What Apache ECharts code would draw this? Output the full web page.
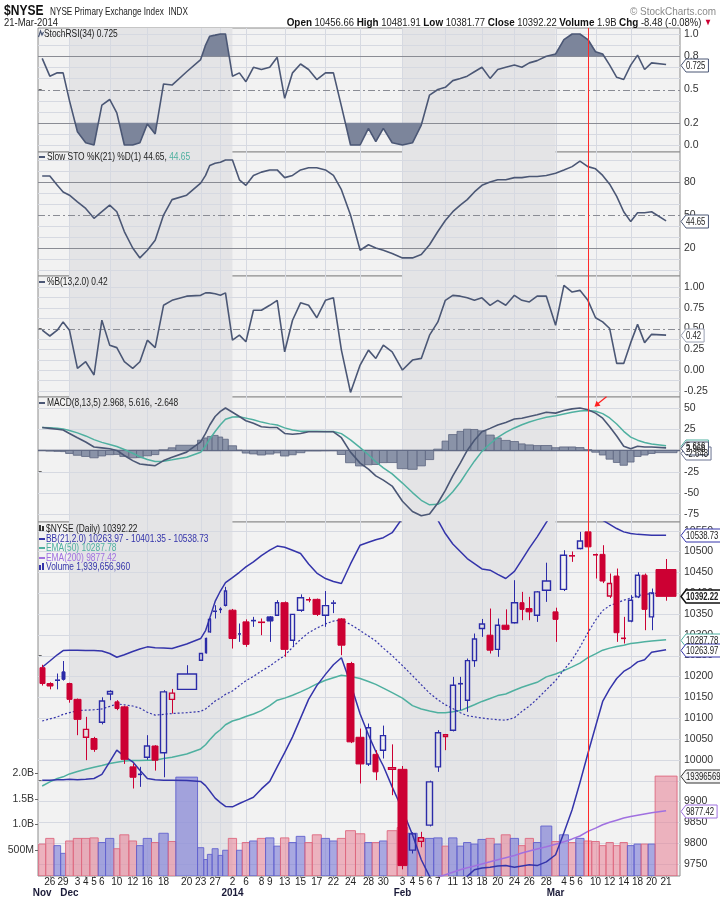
<!DOCTYPE html>
<html><head><meta charset="utf-8">
<script src="https://cdn.jsdelivr.net/npm/echarts@6.0.0/dist/echarts.min.js"></script>
<style>html,body{margin:0;padding:0;background:#fff;}#c{width:720px;height:901px;}</style>
</head><body><div id="c"></div>
<script>
// ---------------- DATA ----------------
const dates = ['Nov 25','Nov 26','Nov 27','Nov 29','Dec 2','Dec 3','Dec 4','Dec 5','Dec 6','Dec 9','Dec 10','Dec 11','Dec 12','Dec 13','Dec 16','Dec 17','Dec 18','Dec 19','Dec 20','Dec 23','Dec 24','Dec 26','Dec 27','Dec 30','Dec 31','Jan 2','Jan 3','Jan 6','Jan 7','Jan 8','Jan 9','Jan 10','Jan 13','Jan 14','Jan 15','Jan 16','Jan 17','Jan 21','Jan 22','Jan 23','Jan 24','Jan 27','Jan 28','Jan 29','Jan 30','Jan 31','Feb 3','Feb 4','Feb 5','Feb 6','Feb 7','Feb 10','Feb 11','Feb 12','Feb 13','Feb 14','Feb 18','Feb 19','Feb 20','Feb 21','Feb 24','Feb 25','Feb 26','Feb 27','Feb 28','Mar 3','Mar 4','Mar 5','Mar 6','Mar 7','Mar 10','Mar 11','Mar 12','Mar 13','Mar 14','Mar 17','Mar 18','Mar 19','Mar 20','Mar 21'];
const prevClose = 10230;
const open = [10221,10183,10190,10211,10183,10145,10054,10051,10090,10158,
 10139,10127,9983,9964,10006,10033,10017,10145,10169,10239,
 10257,10307,10355,10360,10371,10359,10301,10331,10333,10331,
 10343,10347,10377,10287,10359,10385,10385,10347,10375,10338,
 10231,10054,9990,10013,10023,9977,9977,9783,9804,9843,
 9983,10056,10071,10182,10143,10238,10315,10299,10265,10323,
 10329,10377,10363,10347,10407,10355,10409,10490,10507,10547,
 10493,10493,10393,10441,10292,10333,10391,10443,10343,10456.66];
const high = [10228,10186,10207,10237,10185,10147,10103,10055,10150,10167,
 10143,10130,9991,9983,10059,10035,10167,10170,10227,10255,
 10293,10340,10371,10366,10415,10362,10327,10337,10343,10339,
 10345,10383,10380,10349,10397,10390,10387,10405,10383,10340,
 10235,10075,10087,10023,10082,10037,9985,9826,9827,9950,
 10071,10062,10199,10199,10243,10303,10338,10363,10339,10361,
 10431,10403,10391,10405,10473,10365,10503,10500,10547,10555,
 10495,10515,10447,10459,10343,10395,10450,10447,10411,10481.91];
const low = [10178,10169,10169,10190,10137,10059,9999,10019,10085,10143,
 10119,9990,9931,9935,10000,9974,9958,10111,10169,10237,
 10255,10305,10339,10352,10368,10267,10283,10271,10319,10299,
 10283,10345,10247,10271,10355,10378,10345,10319,10352,10251,
 10040,9943,9985,9951,10003,9915,9737,9775,9790,9840,
 9971,10023,10068,10119,10115,10223,10295,10255,10247,10311,
 10327,10335,10335,10331,10379,10283,10405,10475,10505,10508,
 10435,10424,10388,10283,10279,10330,10388,10311,10311,10381.77];
const close = [10183,10177,10192,10193,10145,10097,10073,10025,10141,10164,
 10123,10001,9958,9966,10033,9999,10163,10160,10206,10255,
 10291,10337,10358,10362,10405,10291,10303,10277,10335,10329,
 10333,10377,10265,10349,10389,10383,10349,10370,10377,10275,
 10043,9990,10077,9971,10058,9981,9746,9822,9813,9947,
 10065,10060,10179,10183,10238,10290,10326,10263,10323,10313,
 10377,10361,10355,10403,10429,10337,10491,10489,10525,10511,
 10491,10429,10423,10305,10291,10383,10443,10361,10400.7,10392.22];
// volume in billions of shares
const volume = [0.62,0.73,0.59,0.44,0.68,0.73,0.73,0.74,0.65,0.73,
 0.53,0.80,0.68,0.59,0.73,0.65,0.83,0.67,1.92,0.55,
 0.32,0.42,0.53,0.40,0.50,0.73,0.50,0.65,0.68,0.73,
 0.74,0.58,0.74,0.65,0.77,0.65,0.80,0.73,0.68,0.73,
 0.88,0.82,0.65,0.65,0.68,0.88,0.94,0.83,0.73,0.73,
 0.74,0.58,0.74,0.58,0.65,0.62,0.71,0.73,0.62,0.80,
 0.73,0.59,0.73,0.65,0.97,0.67,0.80,0.65,0.73,0.68,
 0.67,0.59,0.65,0.59,0.65,0.59,0.62,0.62,0.62,1.9397];
const stochRsi = [0.78,0.62,0.65,0.65,0.40,0.12,0.02,0.0,0.36,0.41,
 0.29,0.0,0.0,0.02,0.19,0.10,0.55,0.54,0.66,0.77,
 0.90,0.98,0.99,1.0,1.0,0.62,0.65,0.57,0.70,0.68,
 0.70,0.79,0.42,0.65,0.73,0.68,0.59,0.65,0.65,0.35,
 0.0,0.0,0.15,0.03,0.15,0.02,0.0,0.02,0.18,0.45,
 0.50,0.52,0.58,0.60,0.62,0.66,0.70,0.60,0.68,0.70,
 0.72,0.70,0.74,0.76,0.80,0.82,0.95,1.0,1.0,0.95,
 0.84,0.82,0.72,0.61,0.59,0.72,0.81,0.68,0.74,0.725];
const slowSto = [85.5,85.5,77,71,68,62,56,47,53,59,
 53,35,20,11,18,27,50,64,68,79,
 86,95,97,98,100,100,82,77,86,89,
 91,91,84,86,91,93,93,91,86,73,
 50,18,23,20,18,15,11,11,14,23,
 35,45,53,59,64,71,77,80,82,82,
 84,84,85,85,86,88,91,94,99,94,
 92,86,78,67,53,44,52,52,53,44.65];
const pctB = [0.48,0.41,0.48,0.58,0.48,0.02,0.10,-0.06,0.60,0.30,
 0.27,0.10,0.02,0.10,0.36,0.27,0.78,0.84,0.89,0.90,
 0.93,0.93,0.92,0.90,0.93,0.36,0.42,0.34,0.72,0.72,
 0.78,0.84,0.22,0.60,0.81,0.78,0.63,0.84,0.87,0.24,
 -0.27,0.06,0.24,0.14,0.30,0.22,0.0,0.12,0.14,0.42,
 0.58,0.84,0.90,0.89,0.87,0.84,0.87,0.78,0.84,0.78,
 0.90,0.84,0.82,0.89,0.89,0.54,1.02,0.94,0.96,0.84,
 0.63,0.58,0.50,0.08,0.08,0.33,0.55,0.33,0.43,0.42];
const macdLine = [27,26,25,24,20,15,10,4,3,2,
 0,-6,-12,-16,-17,-18,-12,-8,-2,10,
 20,30,40,46,50,45,40,35,32,28,
 27,27,20,19,20,22,22,22,22,15,
 -2,-15,-22,-30,-35,-42,-60,-72,-77,-75,
 -62,-47,-30,-15,0,12,22,26,30,33,
 37,38,40,42,45,44,47,49,50,48,
 44,38,28,17,5,2,5,4,4,2.968];
const macdSignal = [27,26.7,26.1,25.4,23.6,20.7,17.1,12.7,9.5,7.0,
 4.7,1.1,-3.3,-7.5,-10.7,-13.1,-12.7,-11.1,-8.1,-2.1,
 5.3,13.5,22.3,30.2,36.8,39.5,39.7,38.1,36.1,33.4,
 31.3,29.9,26.6,24.1,22.7,22.5,22.5,22.3,22.2,19.8,
 12.5,3.3,-5.1,-13.4,-20.6,-27.7,-38.5,-49.7,-58.8,-64.2,
 -63.5,-58,-48.7,-37.5,-25,-12.7,-1.1,7.9,15.3,21.2,
 26.5,30.3,33.5,36.3,39.2,40.8,42.9,44.9,46.6,47.1,
 46.1,43.4,38.3,31.2,22.5,15.7,12.1,9.4,7.6,5.616];
const macdHist = [0,-0.7,-1.1,-1.4,-3.6,-5.7,-7.1,-8.7,-6.5,-5,
 -4.7,-7.1,-8.7,-8.5,-6.3,-4.9,0.7,3.1,6.1,12.1,
 14.7,16.5,17.7,15.8,13.2,5.5,0.3,-3.1,-4.1,-5.4,
 -4.3,-2.9,-6.6,-5.1,-2.7,-0.5,-0.5,-0.3,-0.2,-4.8,
 -14.5,-18.3,-16.9,-16.6,-14.4,-14.3,-21.5,-22.3,-18.2,-10.8,
 1.5,11,18.7,22.5,25,24.7,23.1,18.1,14.7,11.8,
 10.5,7.7,6.5,5.7,5.8,3.2,4.1,4.1,3.4,0.9,
 -2.1,-5.4,-10.3,-14.2,-17.5,-13.7,-7.1,-5.4,-3.6,-2.648];
const bbUpper = [10222,10237,10252,10262,10263,10263,10262,10262,10261,10255,
 10246,10252,10260,10266,10271,10269,10268,10267,10278,10291,
 10310,10340,10380,10405,10425,10437,10450,10463,10475,10490,
 10503,10513,10510,10503,10495,10470,10448,10435,10428,10423,
 10470,10515,10522,10528,10533,10545,10580,10600,10610,10600,
 10575,10543,10518,10500,10483,10471,10458,10455,10445,10435,
 10452,10480,10508,10535,10570,10600,10630,10640,10640,10630,
 10610,10575,10565,10555,10547,10543,10541,10540,10539,10538.73];
const bbMiddle = [10093,10098,10103,10109,10113,10118,10119,10120,10122,10128,
 10134,10132,10129,10124,10114,10107,10109,10111,10113,10116,
 10122,10130,10141,10148,10157,10165,10178,10190,10200,10213,
 10225,10238,10250,10270,10289,10305,10316,10326,10333,10335,
 10325,10310,10297,10285,10268,10250,10226,10202,10180,10160,
 10144,10132,10123,10113,10106,10103,10100,10098,10096,10095,
 10101,10116,10129,10146,10168,10190,10216,10240,10270,10305,
 10335,10358,10370,10376,10383,10388,10394,10397,10399,10401.35];
const bbLower = [9951,9951,9952,9952,9953,9952,9953,9955,9965,9995,
 10023,10008,9995,9975,9955,9952,9951,9951,9950,9948,
 9938,9925,9908,9897,9888,9887,9895,9902,9910,9930,
 9948,9983,10017,10055,10100,10145,10178,10205,10228,10245,
 10183,10110,10060,10020,9985,9935,9880,9820,9760,9720,
 9700,9690,9695,9705,9720,9736,9740,9742,9745,9746,
 9742,9745,9748,9746,9755,9772,9825,9880,9945,10015,
 10080,10140,10170,10195,10212,10222,10235,10240,10258,10263.97];
const ema50 = [9937,9947,9955,9959,9966,9972,9977,9982,9986,9991,
 9994,9997,9998,9998,9999,9999,10003,10006,10014,10026,
 10036,10048,10062,10072,10084,10093,10098,10104,10110,10118,
 10130,10143,10148,10155,10163,10172,10182,10191,10197,10203,
 10200,10195,10188,10181,10172,10161,10148,10130,10122,10117,
 10113,10113,10115,10118,10125,10132,10140,10147,10154,10158,
 10167,10174,10180,10186,10199,10206,10214,10223,10232,10245,
 10254,10263,10268,10272,10275,10279,10281,10283,10285,10287.78];
const ema200 = [9470,9476,9482,9487,9493,9499,9505,9510,9516,9522,
 9527,9533,9538,9544,9549,9555,9560,9566,9571,9577,
 9582,9588,9593,9599,9604,9610,9615,9620,9626,9631,
 9636,9641,9646,9651,9656,9661,9666,9671,9675,9679,
 9683,9686,9689,9692,9695,9698,9700,9703,9706,9712,
 9718,9724,9730,9736,9741,9745,9750,9755,9760,9765,
 9770,9776,9781,9786,9791,9797,9803,9810,9817,9828,
 9836,9844,9850,9855,9860,9864,9867,9870,9873,9877.42];
const dayTicks = ['Nov 26','Nov 29','Dec 3','Dec 4','Dec 5','Dec 6','Dec 10','Dec 12','Dec 16','Dec 18','Dec 20','Dec 23','Dec 27','Jan 2','Jan 6','Jan 8','Jan 9','Jan 13','Jan 15','Jan 17','Jan 22','Jan 24','Jan 28','Jan 30','Feb 3','Feb 4','Feb 5','Feb 6','Feb 7','Feb 11','Feb 13','Feb 18','Feb 20','Feb 24','Feb 26','Feb 28','Mar 4','Mar 5','Mar 6','Mar 10','Mar 12','Mar 14','Mar 18','Mar 20','Mar 21'];
const monthTicks = ['Nov 25','Dec 2','Jan 2','Feb 3','Mar 3'];
const monthNames = ['Nov','Dec','2014','Feb','Mar'];
const weekStarts = ['Dec 2','Dec 9','Dec 16','Dec 23','Dec 30','Jan 6','Jan 13','Jan 21','Jan 27','Feb 3','Feb 10','Feb 18','Feb 24','Mar 3','Mar 10','Mar 17'];
const shadeRanges = [['Dec 2','Jan 2'],['Feb 3','Mar 3']];
const markerDay = 'Mar 7';
const priceTicks = [9750,9800,9850,9900,9950,10000,10050,10100,10150,10200,10250,10300,10350,10400,10450,10500,10550];

// ---------------- LAYOUT / HELPERS ----------------
const FONT = "'Liberation Sans',Arial,sans-serif";
const N = dates.length;
const xStart = [], xCenter = [];
let acc = 0;
for (let i = 0; i < N; i++) { xStart.push(acc); xCenter.push(acc + volume[i] / 2); acc += volume[i]; }
const xMin = -0.06, xMax = acc + 0.26;
const di = d => dates.indexOf(d);
const RED = '#cc0033', BLUE = '#2b2ba8', SLATE = '#4b5775', TEAL = '#4fb0a0', PURPLE = '#a070e0', BBC = '#3434aa';
const isUp = i => close[i] >= (i > 0 ? close[i - 1] : prevClose);

const gridDefs = [[28,124],[152,124],[276,121],[397,125],[522,354]];
const grid = gridDefs.map(([t,h]) => ({left:38, width:642, top:t, height:h, show:true, backgroundColor:'#f2f2f2', borderColor:'#8c8c8c', borderWidth:1}));

const hidden = {axisLine:{show:false}, axisTick:{show:false}, axisLabel:{show:false}, splitLine:{show:false}};
const xAxis = [0,1,2,3].map(k => Object.assign({gridIndex:k, type:'value', min:xMin, max:xMax}, hidden));
const dayPos = dayTicks.map(d => xCenter[di(d)]);
xAxis.push({gridIndex:4, type:'value', min:xMin, max:xMax, position:'bottom',
  axisLine:{show:false}, splitLine:{show:false},
  axisTick:{show:true, length:2, customValues: dayPos, lineStyle:{color:'#999'}},
  axisLabel:{show:true, customValues: dayPos, margin:1, fontSize:10, color:'#222', fontFamily:FONT,
    formatter: v => { let b = 0, bd = 1e9; xCenter.forEach((c,i)=>{ const d=Math.abs(c-v); if (d<bd){bd=d;b=i;} }); return dates[b].split(' ')[1]; }}});

function yAx(k, min, max, ticks, fmt, pos) {
  return {gridIndex:k, type:'value', min, max, position: pos || 'right',
    axisLine:{show:false}, splitLine:{show:false},
    axisTick:{show:true, length:3, customValues:ticks, lineStyle:{color:'#666'}},
    axisLabel:{show:true, customValues:ticks, formatter:fmt, margin:4, fontSize:10.5, color:'#333', fontFamily:FONT}};
}
const yAxis = [
  yAx(0, -0.063, 1.054, [0,0.2,0.5,0.8,1.0], v => v.toFixed(1)),
  yAx(1, -5.45, 107.3, [20,50,80], v => String(v)),
  yAx(2, -0.325, 1.133, [-0.25,0,0.25,0.5,0.75,1.0], v => v.toFixed(2)),
  yAx(3, -84.4, 63, [-75,-50,-25,0,25,50], v => String(v)),
  yAx(4, 9721, 10570.7, priceTicks, v => String(v)),
  yAx(4, 0, 6.874, [0.5,1,1.5,2], v => v < 1 ? Math.round(v*1000)+'M' : v.toFixed(1)+'B', 'left')
];

const LIGHT = {stroke:'#d6d9e1', lineWidth:1};
const SOLID = {stroke:'#8a8c94', lineWidth:1};
const DASH = {stroke:'#8a8c94', lineWidth:1, lineDash:[7,3,2,3]};
const DARK0 = {stroke:'#5d6680', lineWidth:1.5};
function range(a, b, s) { const r = []; for (let v = a; v <= b + 1e-9; v += s) r.push(+v.toFixed(4)); return r; }
const hl = [
  range(0,1,0.1).map(v => ({v, s: (Math.abs(v-0.8)<1e-6||Math.abs(v-0.2)<1e-6) ? SOLID : Math.abs(v-0.5)<1e-6 ? DASH : LIGHT})),
  range(0,100,10).map(v => ({v, s: (v===80||v===20) ? SOLID : v===50 ? DASH : LIGHT})),
  range(-0.25,1,0.125).map(v => ({v, s: Math.abs(v-0.5)<1e-6 ? DASH : LIGHT})),
  [-75,-50,-25,25,50].map(v => ({v, s: LIGHT})).concat([{v:0, s:DARK0}]),
  priceTicks.map(v => ({v, s: LIGHT}))
];

function bgSeries(k) {
  return {type:'custom', xAxisIndex:k, yAxisIndex:k, data:[0], silent:true, z:1, clip:true, animation:false,
    renderItem: (params, api) => {
      const cs = params.coordSys; const ch = [];
      shadeRanges.forEach(([a,b]) => {
        const x0 = api.coord([xCenter[di(a)], 0])[0], x1 = api.coord([xCenter[di(b)], 0])[0];
        ch.push({type:'rect', shape:{x:x0, y:cs.y, width:x1-x0, height:cs.height}, style:{fill:'#e4e4e6'}});
      });
      weekStarts.forEach(d => {
        const x = Math.round(api.coord([xCenter[di(d)], 0])[0]) + 0.5;
        ch.push({type:'line', shape:{x1:x, y1:cs.y, x2:x, y2:cs.y+cs.height}, style:LIGHT});
      });
      hl[k].forEach(h => {
        const y = Math.round(api.coord([0, h.v])[1]) + 0.5;
        ch.push({type:'line', shape:{x1:cs.x, y1:y, x2:cs.x+cs.width, y2:y}, style:h.s});
      });
      return {type:'group', children:ch};
    }};
}
function lineSeries(k, arr, color, width, type) {
  return {type:'line', xAxisIndex:k, yAxisIndex:k, data: arr.map((v,i) => [xCenter[i], v]), showSymbol:false, symbol:'none',
    lineStyle:{color, width, type: type || 'solid'}, z:3, silent:true, animation:false, clip:true};
}
function regions(vals, thr, above) {
  const polys = []; let cur = null;
  for (let i = 0; i < N; i++) {
    const v = vals[i], x = xCenter[i];
    const inside = above ? v > thr : v < thr;
    if (inside) {
      if (!cur) { cur = []; if (i > 0) { const pv = vals[i-1], px = xCenter[i-1]; cur.push([px + (x-px)*(thr-pv)/(v-pv), thr]); } else cur.push([x, thr]); }
      cur.push([x, v]);
    } else if (cur) {
      const pv = vals[i-1], px = xCenter[i-1]; cur.push([px + (x-px)*(thr-pv)/(v-pv), thr]); polys.push(cur); cur = null;
    }
  }
  if (cur) { cur.push([xCenter[N-1], thr]); polys.push(cur); }
  return polys;
}
const fillSeries = {type:'custom', xAxisIndex:0, yAxisIndex:0, data:[0], silent:true, z:2, clip:true, animation:false,
  renderItem: (params, api) => {
    const polys = regions(stochRsi, 0.8, true).concat(regions(stochRsi, 0.2, false));
    return {type:'group', children: polys.map(p => ({type:'polygon', shape:{points: p.map(q => api.coord(q))}, style:{fill:'#7c859b'}}))};
  }};
const histSeries = {type:'custom', xAxisIndex:3, yAxisIndex:3, silent:true, z:2, clip:true, animation:false,
  data: macdHist.map((h,i) => [xStart[i], xStart[i] + volume[i], h]),
  renderItem: (params, api) => {
    const a = api.coord([api.value(0), 0]), b = api.coord([api.value(1), api.value(2)]);
    return {type:'rect', shape:{x:a[0], y:Math.min(a[1],b[1]), width:b[0]-a[0], height:Math.abs(b[1]-a[1])}, style:{fill:'#8a93a8', stroke:'#5d6680', lineWidth:0.8}};
  }};
const volSeries = {type:'custom', xAxisIndex:4, yAxisIndex:5, silent:true, z:2, clip:true, animation:false,
  data: volume.map((v,i) => [xStart[i], xStart[i] + v, v, i]),
  renderItem: (params, api) => {
    const i = api.value(3);
    const a = api.coord([api.value(0), 0]), b = api.coord([api.value(1), api.value(2)]);
    const up = isUp(i);
    return {type:'rect', shape:{x:a[0], y:b[1], width:b[0]-a[0], height:a[1]-b[1]},
      style:{fill: up ? 'rgba(118,118,214,0.6)' : 'rgba(232,125,148,0.55)', stroke: up ? 'rgba(98,98,206,0.9)' : 'rgba(222,104,128,0.9)', lineWidth:1}};
  }};
const candleSeries = {type:'custom', xAxisIndex:4, yAxisIndex:4, silent:true, z:5, clip:true, animation:false,
  data: dates.map((d,i) => [xStart[i], xStart[i] + volume[i], open[i], close[i], low[i], high[i], i]),
  renderItem: (params, api) => {
    const i = api.value(6);
    const p0 = api.coord([api.value(0), api.value(2)]), p1 = api.coord([api.value(1), api.value(2)]);
    const yO = p0[1], yC = api.coord([api.value(0), api.value(3)])[1];
    const yL = api.coord([api.value(0), api.value(4)])[1], yH = api.coord([api.value(0), api.value(5)])[1];
    const col = isUp(i) ? BLUE : RED;
    const filled = close[i] < open[i];
    const xl = Math.round(p0[0]) + 1, xr = Math.round(p1[0]) - 1;
    const xm = Math.round((p0[0] + p1[0]) / 2) + 0.5;
    const top = Math.min(yO, yC), bot = Math.max(yO, yC);
    const ch = [
      {type:'line', shape:{x1:xm, y1:yH, x2:xm, y2:top}, style:{stroke:col, lineWidth:1}},
      {type:'line', shape:{x1:xm, y1:bot, x2:xm, y2:yL}, style:{stroke:col, lineWidth:1}}
    ];
    if (bot - top < 1.6) ch.push({type:'line', shape:{x1:xl, y1:(top+bot)/2, x2:xr, y2:(top+bot)/2}, style:{stroke:col, lineWidth:1.6}});
    else if (filled) ch.push({type:'rect', shape:{x:xl, y:top, width:Math.max(1, xr-xl), height:bot-top}, style:{fill:col, stroke:col, lineWidth:1}});
    else ch.push({type:'rect', shape:{x:xl+0.5, y:top, width:Math.max(1, xr-xl-1), height:bot-top}, style:{fill:'none', stroke:col, lineWidth:1.4}});
    return {type:'group', children:ch};
  }};

const series = [0,1,2,3,4].map(bgSeries).concat([
  fillSeries,
  lineSeries(0, stochRsi, SLATE, 1.6),
  lineSeries(1, slowSto, SLATE, 1.6),
  lineSeries(2, pctB, SLATE, 1.6),
  histSeries,
  lineSeries(3, macdSignal, TEAL, 1.5),
  lineSeries(3, macdLine, SLATE, 1.6),
  volSeries,
  lineSeries(4, ema200, PURPLE, 1.5),
  lineSeries(4, ema50, TEAL, 1.5),
  lineSeries(4, bbMiddle, BBC, 1.2, [2,2]),
  lineSeries(4, bbUpper, BBC, 1.5),
  lineSeries(4, bbLower, BBC, 1.5),
  candleSeries
]);

const chart = echarts.init(document.getElementById('c'));
chart.setOption({animation:false, backgroundColor:'#fff', grid, xAxis, yAxis, series});

// ---------------- TEXT / BADGES ----------------
const ctx = document.createElement('canvas').getContext('2d');
function tw(t, font) { ctx.font = font; return ctx.measureText(t).width; }
const g = [];
// condensed look: horizontally squeezed real text
function txt(x, y, text, size, fill, opts) {
  opts = opts || {};
  const st = {text, fill, font:(opts.bold?'bold ':'') + size + 'px ' + FONT,
    textAlign: opts.align || 'left', textVerticalAlign:'middle'};
  if (opts.rich) st.rich = opts.rich;
  g.push({type:'text', x, y, scaleX: opts.sx || 1, z:100, silent:true, style:st});
}
function icon(x, y, color) { g.push({type:'rect', z:100, silent:true, shape:{x, y:y-1, width:6, height:2}, style:{fill:color}}); }
const LS = 0.8;
// header
txt(4, 11, '$NYSE', 14, '#111', {bold:true, sx:0.86});
txt(50, 12, 'NYSE Primary Exchange Index  INDX', 10.5, '#222', {sx:0.78});
txt(4, 23, '21-Mar-2014', 10.5, '#222', {sx:0.9});
txt(716, 12, '© StockCharts.com', 10.5, '#8a8a8a', {align:'right', sx:0.95});
txt(712, 23, '{b|Open} 10456.66 {b|High} 10481.91 {b|Low} 10381.77 {b|Close} 10392.22 {b|Volume} 1.9B {b|Chg} -8.48 (-0.08%) {r|▼}', 10.5, '#222',
  {align:'right', sx:0.9, rich:{b:{fontWeight:'bold', fontSize:11, fontFamily:FONT, fill:'#111'}, r:{fill:RED, fontSize:9}}});
// month labels below the day labels
monthTicks.forEach((d, i) => {
  const x = chart.convertToPixel({xAxisIndex:4}, xCenter[di(d)]);
  txt(x, 893, monthNames[i], 11, '#1a1a38', {bold:true, align:'center', sx:0.9});
});
// panel legends
txt(44, 34, 'StochRSI(34) 0.725', 10.5, '#222', {sx:LS});
g.push({type:'polyline', z:100, silent:true, shape:{points:[[38.5,37],[40.5,31],[42,35],[43.5,32]]}, style:{stroke:SLATE, lineWidth:1.2, fill:null}});
icon(39, 157, SLATE); txt(47, 157, '{a|Slow STO %K(21) %D(1) 44.65,} {t|44.65}', 10.5, '#222', {sx:LS, rich:{a:{fill:'#222'}, t:{fill:TEAL}}});
icon(39, 282, SLATE); txt(47, 282, '%B(13,2.0) 0.42', 10.5, '#222', {sx:LS});
icon(39, 403, SLATE); txt(47, 403, 'MACD(8,13,5) 2.968, 5.616, -2.648', 10.5, '#222', {sx:LS});
g.push({type:'rect', z:100, silent:true, shape:{x:39, y:525, width:2, height:6}, style:{fill:'#333'}});
g.push({type:'rect', z:100, silent:true, shape:{x:42, y:526, width:2, height:5}, style:{fill:'#333'}});
txt(46, 529, '$NYSE (Daily) 10392.22', 10.5, '#222', {sx:LS});
icon(39, 539, BBC); txt(46, 539, 'BB(21,2.0) 10263.97 - 10401.35 - 10538.73', 10.5, BBC, {sx:LS});
icon(39, 548, TEAL); txt(46, 548, 'EMA(50) 10287.78', 10.5, TEAL, {sx:LS});
icon(39, 558, PURPLE); txt(46, 558, 'EMA(200) 9877.42', 10.5, PURPLE, {sx:LS});
g.push({type:'rect', z:100, silent:true, shape:{x:39, y:565, width:2, height:5}, style:{fill:BBC}});
g.push({type:'rect', z:100, silent:true, shape:{x:42, y:563, width:2, height:7}, style:{fill:BBC}});
txt(46, 567, 'Volume 1,939,656,960', 10.5, BBC, {sx:LS});

// red marker line and arrow
const mx = Math.round(chart.convertToPixel({xAxisIndex:4}, xCenter[di(markerDay)])) + 0.5;
g.push({type:'line', z:90, silent:true, shape:{x1:mx, y1:28, x2:mx, y2:876}, style:{stroke:'#ff2a2a', lineWidth:1}});
const ay = chart.convertToPixel({yAxisIndex:3}, macdLine[di(markerDay)]);
const tip = [mx + 6, ay - 3];
g.push({type:'line', z:95, silent:true, shape:{x1:tip[0]+12, y1:tip[1]-10, x2:tip[0]+2, y2:tip[1]-2}, style:{stroke:'#ff2020', lineWidth:1.3}});
g.push({type:'polygon', z:95, silent:true, shape:{points:[tip, [tip[0]+2, tip[1]-6], [tip[0]+6, tip[1]-1]]}, style:{fill:'#ff2020'}});

// value badges on the right axis
const BS = 0.74;
function badge(ax, v, text, color, opts) {
  opts = opts || {};
  const y = Math.round(chart.convertToPixel({yAxisIndex:ax}, v)) + 0.5;
  const font = (opts.bold ? 'bold ' : '') + '10.5px ' + FONT;
  const w = tw(text, font) * BS + 8;
  const x = 681;
  g.push({type:'polygon', z:110, silent:true, shape:{points:[[x, y], [x+5, y-6.5], [x+w, y-6.5], [x+w, y+6.5], [x+5, y+6.5]]},
    style:{fill: opts.fill || '#fff', stroke:color, lineWidth: opts.bold ? 1.5 : 1}});
  g.push({type:'text', z:111, silent:true, x:x+5, y:y+0.5, scaleX:BS, style:{text, font, fill: opts.tc || '#222', textVerticalAlign:'middle'}});
}
badge(0, 0.725, '0.725', SLATE);
badge(1, 44.65, '44.65', SLATE);
badge(2, 0.42, '0.42', '#9aa0b2');
badge(3, 5.616, '5.616', TEAL);
badge(3, -2.648, '-2.648', '#6a7390');
badge(3, 2.968, '2.968', SLATE);
badge(4, 10538.73, '10538.73', BBC);
badge(4, 10287.78, '10287.78', TEAL);
badge(4, 10263.97, '10263.97', BBC);
badge(4, 10392.22, '10392.22', '#111', {bold:true});
badge(5, 1.9397, '19396569', '#333', {fill:'#f4f4f4'});
badge(4, 9877.42, '9877.42', PURPLE);

chart.setOption({graphic: g});
</script></body></html>
